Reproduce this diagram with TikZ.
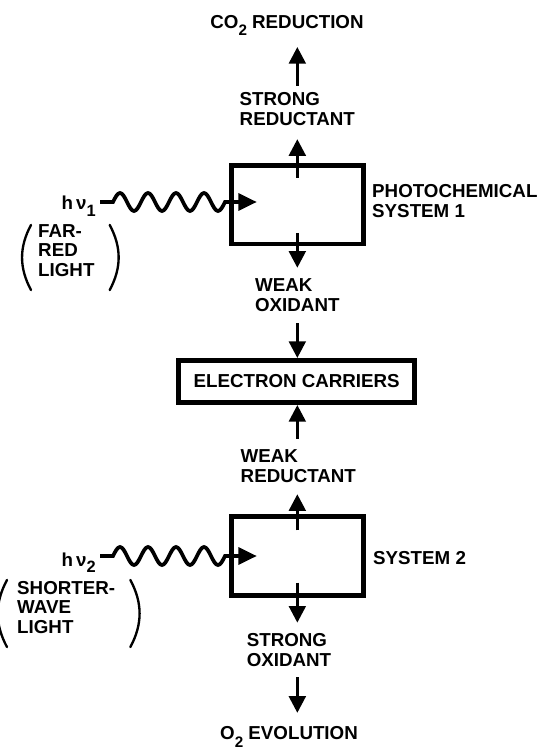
\documentclass[tikz,border=0pt]{standalone}
\usepackage{fontspec}
\setmainfont{Liberation Sans}
\usepackage{tikz}
\usetikzlibrary{positioning,arrows.meta,calc}

\begin{document}
\begin{tikzpicture}[
  every node/.style={font=\bfseries\fontsize{16}{17}\selectfont,inner sep=0pt},
  txt/.style={align=left},
  block/.style={draw,line width=4pt,minimum width=3.97cm,minimum height=2.36cm},
  arrow/.style={-{Triangle[length=0.5cm,width=0.5cm]},line width=2.6pt},
  wavy/.style={-{Triangle[length=0.55cm,width=0.5cm]},line width=3.2pt},
  paren/.style={line width=2pt,line cap=round}
]
  \useasboundingbox (0,0) rectangle (16.53,-22.47);
  \node[anchor=base] (co2) at (8.61,-0.855)
    {CO\raisebox{-0.4em}{\fontsize{13}{13}\selectfont 2} REDUCTION};
  \node[txt] (sred) at (8.92,-3.27) {STRONG\\REDUCTANT};
  \node[block] (sys1) at (8.92,-6.14) {};
  \node[txt,anchor=west] (sys1lbl) at (11.16,-6.03) {PHOTOCHEMICAL\\SYSTEM 1};
  \node[anchor=base east] (hv1) at (2.88,-6.3)
    {h\,ν\raisebox{-0.35em}{\fontsize{14}{14}\selectfont 1}};
  \node[anchor=west] (farred) at (1.14,-7.59)
    {\begin{tabular}{@{}l@{}}FAR-\\RED\\LIGHT\end{tabular}};
  \node[txt] (wox) at (8.92,-8.85) {WEAK\\OXIDANT};
  \node[draw,line width=4pt,minimum width=7.09cm,minimum height=1.27cm] (ec)
    at (8.9,-11.445) {ELECTRON CARRIERS};
  \node[txt] (wred) at (8.95,-13.98) {WEAK\\REDUCTANT};
  \node[block] (sys2) at (8.92,-16.68) {};
  \node[anchor=west] (sys2lbl) at (11.19,-16.74) {SYSTEM 2};
  \node[anchor=base east] (hv2) at (2.88,-16.98)
    {h\,ν\raisebox{-0.35em}{\fontsize{14}{14}\selectfont 2}};
  \node[anchor=west] (shortwave) at (0.51,-18.3)
    {\begin{tabular}{@{}l@{}}SHORTER-\\WAVE\\LIGHT\end{tabular}};
  \node[txt] (sox) at (8.67,-19.5) {STRONG\\OXIDANT};
  \node[anchor=base] (o2) at (8.67,-22.185)
    {O\raisebox{-0.4em}{\fontsize{13}{13}\selectfont 2} EVOLUTION};
  \draw[arrow,shorten <=0.2cm,shorten >=0.555cm] (sys1 |- sred.north) -- (sys1 |- co2.base);
  \draw[arrow,shorten >=0.4cm] ([yshift=-0.45cm]sys1.north) -- (sys1 |- sred.south);
  \draw[wavy] ($(hv1.east |- sys1.west)+(0.12,0.08)$) -- ++(0.39,0)
    \foreach \k in {1,...,4} {sin ++(0.21,0.27) cos ++(0.21,-0.27) sin ++(0.21,-0.27) cos ++(0.21,0.27)}
    -- ($(sys1.west)+(0.84,0.08)$);
  \draw[paren] ($(farred.north west)+(-0.21,-0.06)$) to[bend right=28] ($(farred.south west)+(-0.21,-0.21)$);
  \draw[paren] ($(farred.north east)+(0.45,-0.06)$) to[bend left=28] ($(farred.south east)+(0.45,-0.21)$);
  \draw[arrow,shorten >=0.315cm] ([yshift=0.405cm]sys1.south) -- (sys1 |- wox.north);
  \draw[arrow,shorten <=0.345cm] (sys1 |- wox.south) -- (sys1 |- ec.north);
  \draw[arrow,shorten <=0.315cm] (sys1 |- wred.north) -- (sys1 |- ec.south);
  \draw[arrow,shorten >=0.345cm] ([yshift=-0.48cm]sys2.north) -- (sys2 |- wred.south);
  \draw[wavy] ($(hv2.east |- sys2.west)+(0.12,0)$) -- ++(0.39,0)
    \foreach \k in {1,...,4} {sin ++(0.21,0.27) cos ++(0.21,-0.27) sin ++(0.21,-0.27) cos ++(0.21,0.27)}
    -- ($(sys2.west)+(0.84,0)$);
  \draw[paren] ($(shortwave.north west)+(-0.3,0)$) to[bend right=28] ($(shortwave.south west)+(-0.3,-0.21)$);
  \draw[paren] ($(shortwave.north east)+(0.45,0)$) to[bend left=28] ($(shortwave.south east)+(0.45,-0.21)$);
  \draw[arrow,shorten >=0.315cm] ([yshift=0.45cm]sys2.south) -- (sys2 |- sox.north);
  \draw[arrow,shorten <=0.315cm,shorten >=0.4cm] (sys2 |- sox.south) -- (sys2 |- o2.north);
\end{tikzpicture}
\end{document}
